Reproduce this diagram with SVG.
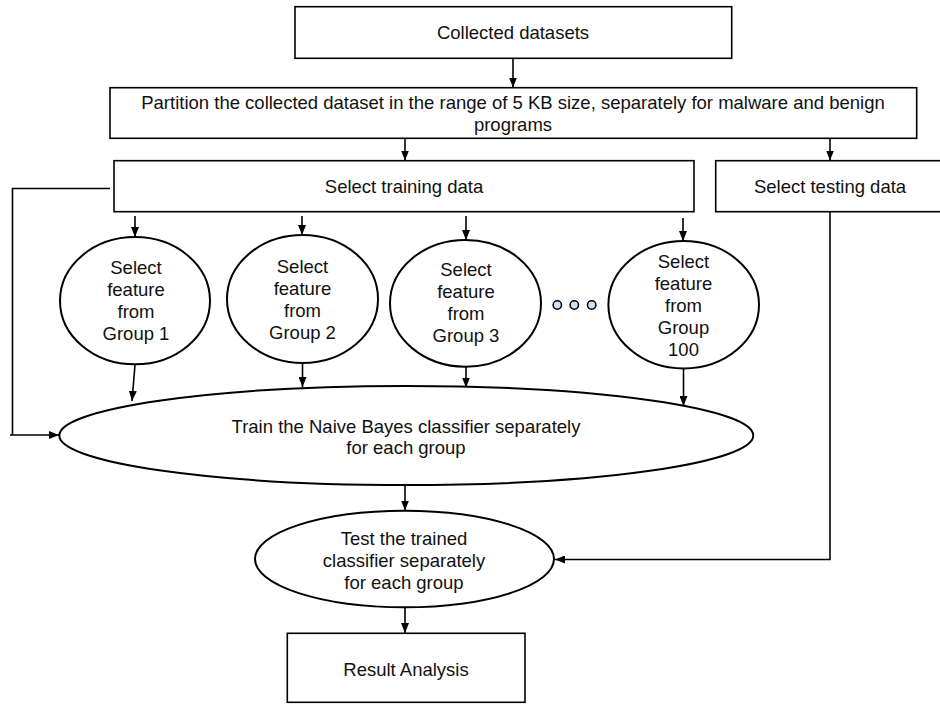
<svg xmlns="http://www.w3.org/2000/svg" width="940" height="704" viewBox="0 0 940 704">
  <defs>
    <marker id="arrow" markerWidth="10" markerHeight="8" refX="10" refY="4" orient="auto" markerUnits="userSpaceOnUse">
      <path d="M0,0 L10,4 L0,8 z" fill="#000"/>
    </marker>
    <style>
      .box { fill: #fff; stroke: #000; stroke-width: 1.6; }
      .oval { fill: #fff; stroke: #000; stroke-width: 2; }
      .lbl { font-family: "Liberation Sans", Arial, sans-serif; font-size: 18.5px; fill: #111; text-anchor: middle; }
      .edge { fill: none; stroke: #000; stroke-width: 1.6; }
      .arr { marker-end: url(#arrow); }
      .dot { fill: #cfe2f3; stroke: #000; stroke-width: 1.5; }
    </style>
  </defs>

  <rect width="940" height="704" fill="#fff"/>

  <!-- connectors -->
  <g id="connectors">
    <line class="edge arr" x1="513" y1="58" x2="513" y2="87.5"/>
    <line class="edge arr" x1="405" y1="135" x2="405" y2="160.5"/>
    <line class="edge arr" x1="830" y1="138" x2="830" y2="160.5"/>
    <line class="edge arr" x1="135" y1="216" x2="135" y2="237"/>
    <line class="edge arr" x1="302" y1="216" x2="302" y2="235"/>
    <line class="edge arr" x1="466" y1="216" x2="466" y2="240"/>
    <line class="edge arr" x1="683" y1="218" x2="683" y2="241"/>
    <line class="edge arr" x1="135" y1="365" x2="132" y2="401"/>
    <line class="edge arr" x1="302.5" y1="363" x2="302.5" y2="387"/>
    <line class="edge arr" x1="466" y1="366" x2="466" y2="387.5"/>
    <line class="edge arr" x1="683.5" y1="368" x2="683.5" y2="406"/>
    <line class="edge arr" x1="405" y1="485" x2="405" y2="510.5"/>
    <line class="edge arr" x1="405" y1="607" x2="405" y2="633"/>
    <!-- training data fed straight into the classifier -->
    <polyline class="edge" points="110,188.5 12.5,188.5 12.5,435"/>
    <line class="edge arr" x1="10" y1="435" x2="59" y2="435"/>
    <!-- testing data to the trained classifier -->
    <polyline class="edge arr" points="830,212 830,559.5 555,559.5"/>
  </g>

  <g id="collected">
    <rect class="box" x="295" y="6.7" width="436.7" height="51.6"/>
    <text class="lbl" x="513" y="39">Collected datasets</text>
  </g>

  <g id="partition">
    <rect class="box" x="110" y="87.7" width="806.7" height="50.6"/>
    <text class="lbl" x="513" y="109">Partition the collected dataset in the range of 5 KB size, separately for malware and benign</text>
    <text class="lbl" x="513" y="131">programs</text>
  </g>

  <g id="training">
    <rect class="box" x="114" y="160.7" width="580" height="51"/>
    <text class="lbl" x="404" y="193">Select training data</text>
  </g>

  <g id="testing">
    <rect class="box" x="715.7" y="160.7" width="230" height="51"/>
    <text class="lbl" x="830" y="193">Select testing data</text>
  </g>

  <g id="group1">
    <ellipse class="oval" cx="135" cy="300.7" rx="75" ry="63.6"/>
    <text class="lbl" x="136" y="274">Select</text>
    <text class="lbl" x="136" y="296">feature</text>
    <text class="lbl" x="136" y="318">from</text>
    <text class="lbl" x="136" y="340">Group 1</text>
  </g>

  <g id="group2">
    <ellipse class="oval" cx="302.5" cy="299" rx="75.5" ry="64"/>
    <text class="lbl" x="302.5" y="273">Select</text>
    <text class="lbl" x="302.5" y="295">feature</text>
    <text class="lbl" x="302.5" y="317">from</text>
    <text class="lbl" x="302.5" y="339">Group 2</text>
  </g>

  <g id="group3">
    <ellipse class="oval" cx="465.5" cy="303.3" rx="75.5" ry="63.4"/>
    <text class="lbl" x="466" y="276">Select</text>
    <text class="lbl" x="466" y="298">feature</text>
    <text class="lbl" x="466" y="320">from</text>
    <text class="lbl" x="466" y="342">Group 3</text>
  </g>

  <g id="ellipsis">
    <circle class="dot" cx="557.3" cy="305" r="4.2"/>
    <circle class="dot" cx="574.3" cy="305" r="4.2"/>
    <circle class="dot" cx="591.7" cy="305" r="4.2"/>
  </g>

  <g id="group100">
    <ellipse class="oval" cx="683.7" cy="304.7" rx="75.3" ry="63.7"/>
    <text class="lbl" x="683.5" y="268">Select</text>
    <text class="lbl" x="683.5" y="290">feature</text>
    <text class="lbl" x="683.5" y="312">from</text>
    <text class="lbl" x="683.5" y="334">Group</text>
    <text class="lbl" x="683.5" y="356">100</text>
  </g>

  <g id="train">
    <ellipse class="oval" cx="406.3" cy="435.5" rx="347" ry="49.5"/>
    <text class="lbl" x="406" y="433">Train the Naive Bayes classifier separately</text>
    <text class="lbl" x="406" y="454">for each group</text>
  </g>

  <g id="test">
    <ellipse class="oval" cx="404.5" cy="559" rx="149.5" ry="48.3"/>
    <text class="lbl" x="404" y="545">Test the trained</text>
    <text class="lbl" x="404" y="567">classifier separately</text>
    <text class="lbl" x="404" y="589">for each group</text>
  </g>

  <g id="result">
    <rect class="box" x="287.3" y="633.3" width="237.7" height="69"/>
    <text class="lbl" x="406" y="676">Result Analysis</text>
  </g>
</svg>
